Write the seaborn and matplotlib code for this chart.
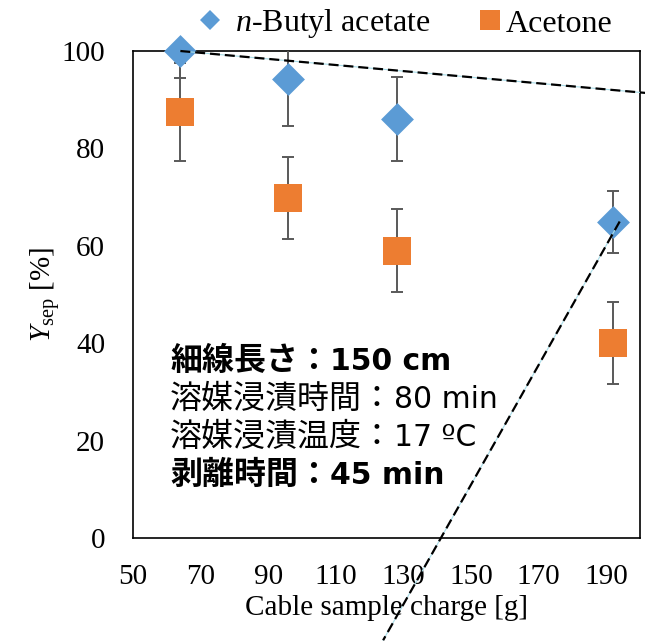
import matplotlib
matplotlib.use("Agg")
import matplotlib.pyplot as plt
from matplotlib.lines import Line2D
import seaborn as sns
import pandas as pd

# ---- data ----
charge = [64, 96, 128, 192]
butyl_vals = [100.0, 94.2, 86.0, 64.9]
butyl_err = [5.6, 9.6, 8.6, 6.4]
acetone_vals = [87.5, 69.8, 59.0, 40.0]
acetone_err = [10.0, 8.5, 8.5, 8.4]
series_names = ["n-Butyl acetate", "Acetone"]
xticks = [50, 70, 90, 110, 130, 150, 170, 190]
yticks = [0, 20, 40, 60, 80, 100]
trend1_x = [64, 201.5]
trend1_y = [100, 91.4]
trend2_x = [194, 124]
trend2_y = [65, -21]
note_labels = ["細線長さ", "溶媒浸漬時間", "溶媒浸漬温度", "剥離時間"]
note_values = ["150 cm", "80 min", "17 ºC", "45 min"]
notes_bold = [True, False, False, True]

BLUE = "#5B9BD5"
ORANGE = "#ED7D31"
GRAY = "#595959"

sns.set_style("white")
plt.rcParams["font.family"] = ["Liberation Serif", "DejaVu Sans"]
plt.rcParams["mathtext.fontset"] = "custom"
plt.rcParams["mathtext.rm"] = "Liberation Serif"
plt.rcParams["mathtext.it"] = "Liberation Serif:italic"
plt.rcParams["text.color"] = "black"
plt.rcParams["axes.labelcolor"] = "black"
plt.rcParams["xtick.color"] = "black"
plt.rcParams["ytick.color"] = "black"

df_b = pd.DataFrame({"x": charge, "y": butyl_vals})
df_a = pd.DataFrame({"x": charge, "y": acetone_vals})

W, H = 645, 643
fig = plt.figure(figsize=(W/100, H/100), dpi=100)
ax = fig.add_axes([133/W, 1-538/H, (640-133)/W, (538-51)/H])

ax.errorbar(charge, acetone_vals, yerr=acetone_err, fmt="none", ecolor=GRAY,
            elinewidth=1.4, capsize=4.3, capthick=1.4, zorder=2)
sns.scatterplot(data=df_a, x="x", y="y", marker="s", s=400, color=ORANGE,
                linewidth=0, ax=ax, zorder=3, legend=False, clip_on=False)
ax.errorbar(charge, butyl_vals, yerr=butyl_err, fmt="none", ecolor=GRAY,
            elinewidth=1.4, capsize=4.3, capthick=1.4, zorder=4)
sns.scatterplot(data=df_b, x="x", y="y", marker="D", s=280, color=BLUE,
                linewidth=0, ax=ax, zorder=5, legend=False, clip_on=False)

for tx, ty in [(trend1_x, trend1_y), (trend2_x, trend2_y)]:
    ax.plot(tx, ty, color="#A8DCE8", lw=0.8, zorder=6, clip_on=False)
    ax.plot(tx, ty, color="black", lw=1.6, ls=(0, (4.5, 2.2)), zorder=7, clip_on=False)

ax.set_xlim(50, 200)
ax.set_ylim(0, 100)
ax.set_xticks(xticks)
ax.set_yticks(yticks)
ax.tick_params(axis="x", direction="in", length=6.5, width=1.1, labelsize=21, pad=19, colors="black")
ax.tick_params(axis="y", direction="in", length=3.6, width=1.1, labelsize=21, pad=20, colors="black")
for sp in ax.spines.values():
    sp.set_visible(True)
    sp.set_color("black")
    sp.set_linewidth(1.2)

ax.set_xlabel("Cable sample charge [g]", fontsize=21, labelpad=3, color="black")
ax.set_ylabel(r"$\mathit{Y}_{\mathrm{sep}}$ [%]", fontsize=21, labelpad=0, color="black")

# annotation
EM = 32.0
y0 = 361
cjk = ["Noto Sans CJK JP", "DejaVu Sans"]
for i, (lab, val, b) in enumerate(zip(note_labels, note_values, notes_bold)):
    yy = 1 - (y0 + i*38)/H
    w = "bold" if b else "normal"
    fig.text(170/W, yy, lab + "：", fontsize=23, fontweight=w, family=cjk,
             va="center", ha="left", color="black")
    xv = 170 + (len(lab) + 1) * EM
    fig.text(xv/W, yy, val, fontsize=21.5, fontweight=w, family=["DejaVu Sans"],
             va="center", ha="left", color="black")

h1 = Line2D([], [], marker="D", color=BLUE, ls="none", markersize=10, markeredgewidth=0)
h2 = Line2D([], [], marker="s", color=ORANGE, ls="none", markersize=14.5, markeredgewidth=0)
fig.legend([h1], [r"$\mathit{n}$-Butyl acetate"], loc="center left",
           bbox_to_anchor=(194/W, 1-24/H), frameon=False, fontsize=23,
           handletextpad=0.28, handlelength=1.0, borderpad=0, borderaxespad=0,
           labelcolor="black")
fig.legend([h2], ["Acetone"], loc="center left",
           bbox_to_anchor=(474/W, 1-24/H), frameon=False, fontsize=23,
           handletextpad=0.0, handlelength=1.0, borderpad=0, borderaxespad=0,
           labelcolor="black")

fig.savefig("out.png", dpi=100)
